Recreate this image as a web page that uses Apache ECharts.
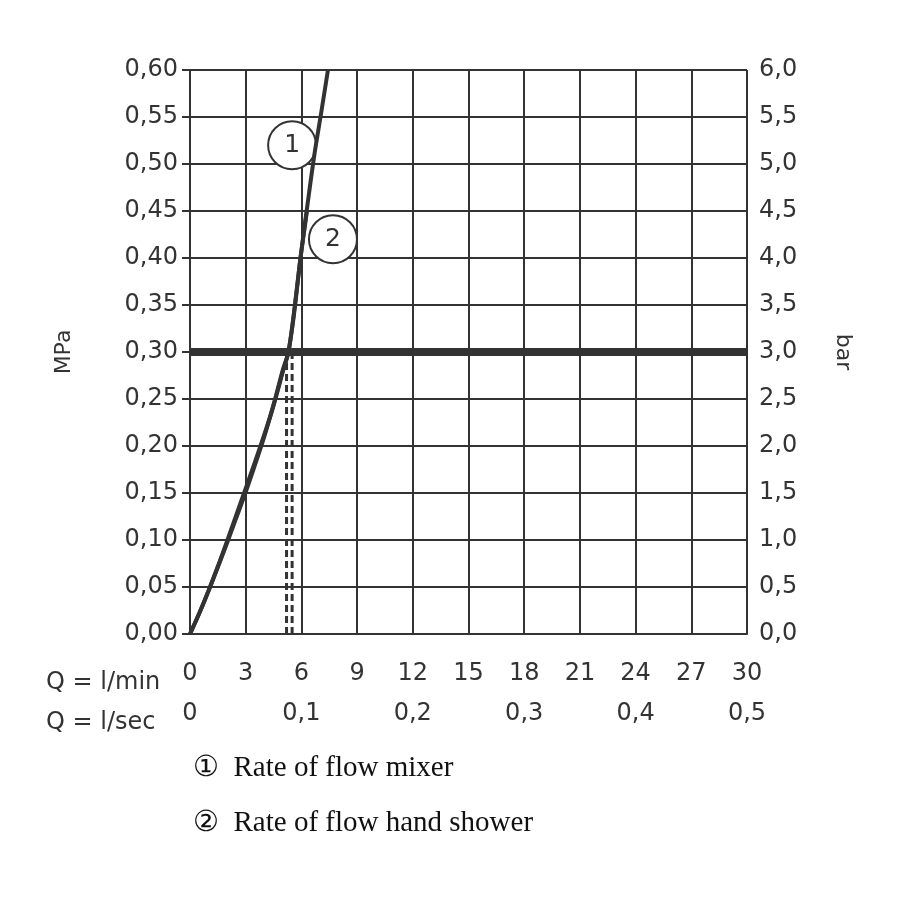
<!DOCTYPE html>
<html><head><meta charset="utf-8">
<script src="https://cdn.jsdelivr.net/npm/echarts@6/dist/echarts.min.js"></script>
<style>html,body{margin:0;background:#fff}#c{width:900px;height:900px}</style>
</head><body><div id="c"></div>
<script>
const flowTicksMin = ['0','3','6','9','12','15','18','21','24','27','30'];
const flowTicksSec = ['0','0,1','0,2','0,3','0,4','0,5'];
const mixer = [[0,0],[0.5,0.022],[1.0,0.046],[1.5,0.072],[2.0,0.099],[2.5,0.127],[3.0,0.155],[3.5,0.183],[4.0,0.212],[4.5,0.243],[5.0,0.279],[5.3,0.30],[5.6,0.34],[5.95,0.40],[6.35,0.46],[6.7,0.51],[7.07,0.555],[7.43,0.60]];
const handShower = [[0,0],[0.5,0.022],[1.0,0.046],[1.5,0.071],[2.0,0.097],[2.5,0.124],[3.0,0.151],[3.5,0.180],[4.0,0.210],[4.5,0.244],[5.0,0.281],[5.3,0.30],[5.65,0.35],[5.95,0.40],[6.3,0.45]];
const dashA = [[5.2,0],[5.2,0.30]];
const dashB = [[5.5,0],[5.5,0.30]];
const ff = 'DejaVu Sans';
const chart = echarts.init(document.getElementById('c'));
const lbl = {color:'#333',fontFamily:ff,fontSize:24};
chart.setOption({
  animation:false,
  grid:{left:190,right:153,top:70,bottom:266},
  xAxis:[
    {type:'value',min:0,max:30,interval:3,axisLine:{show:true,lineStyle:{color:'#333',width:2}},axisTick:{show:false},
     splitLine:{lineStyle:{color:'#333',width:2}},
     axisLabel:Object.assign({margin:28,formatter:v=>flowTicksMin[Math.round(v/3)]},lbl)},
    {type:'value',min:0,max:0.5,interval:0.1,position:'bottom',offset:40,axisLine:{show:false},axisTick:{show:false},splitLine:{show:false},
     axisLabel:Object.assign({margin:28,formatter:v=>flowTicksSec[Math.round(v*10)]},lbl)}
  ],
  yAxis:[
    {type:'value',min:0,max:0.6,interval:0.05,axisLine:{show:true,lineStyle:{color:'#333',width:2}},
     axisTick:{show:true,length:8,lineStyle:{width:2}},splitLine:{lineStyle:{color:'#333',width:2}},
     name:'MPa',nameLocation:'middle',nameGap:115,nameTextStyle:{color:'#333',fontFamily:ff,fontSize:22},
     axisLabel:Object.assign({margin:12,formatter:v=>v.toFixed(2).replace('.',',')},lbl)},
    {type:'value',min:0,max:6,interval:0.5,position:'right',axisLine:{show:true,lineStyle:{color:'#333',width:2}},
     axisTick:{show:true,length:8,lineStyle:{width:2}},splitLine:{show:false},
     name:'bar',nameLocation:'middle',nameGap:85,nameRotate:-90,nameTextStyle:{color:'#333',fontFamily:ff,fontSize:22},
     axisLabel:Object.assign({margin:12,formatter:v=>v.toFixed(1).replace('.',',')},lbl)}
  ],
  series:[
    {type:'line',data:dashA,symbol:'none',lineStyle:{color:'#333',width:3,type:[7,4]}},
    {type:'line',data:dashB,symbol:'none',lineStyle:{color:'#333',width:3,type:[7,4]}},
    {type:'line',data:mixer,smooth:0.3,symbol:'none',lineStyle:{color:'#333',width:4}},
    {type:'line',data:handShower,smooth:0.3,symbol:'none',lineStyle:{color:'#333',width:4},
     markLine:{silent:true,symbol:'none',label:{show:false},lineStyle:{color:'#333',width:8,type:'solid'},data:[{yAxis:0.30}]}}
  ]
});
function circ(pt,t){
  const p = chart.convertToPixel({xAxisIndex:0,yAxisIndex:0},pt);
  return {type:'group',x:p[0],y:p[1],children:[
    {type:'circle',shape:{cx:0,cy:0,r:24},style:{fill:'#fff',stroke:'#333',lineWidth:2}},
    {type:'text',style:{text:t,x:0,y:0,align:'center',verticalAlign:'middle',font:'25px '+ff,fill:'#333'}}]};
}
chart.setOption({graphic:[
  circ([5.5,0.52],'1'), circ([7.7,0.42],'2'),
  {type:'text',left:46,top:671,style:{text:'Q = l/min',font:'24px '+ff,fill:'#333'}},
  {type:'text',left:46,top:711,style:{text:'Q = l/sec',font:'24px '+ff,fill:'#333'}},
  {type:'text',left:193,top:754,style:{text:'\u2460  Rate of flow mixer',font:'29px "Liberation Serif"',fill:'#111'}},
  {type:'text',left:193,top:809,style:{text:'\u2461  Rate of flow hand shower',font:'29px "Liberation Serif"',fill:'#111'}}
]});
</script></body></html>
